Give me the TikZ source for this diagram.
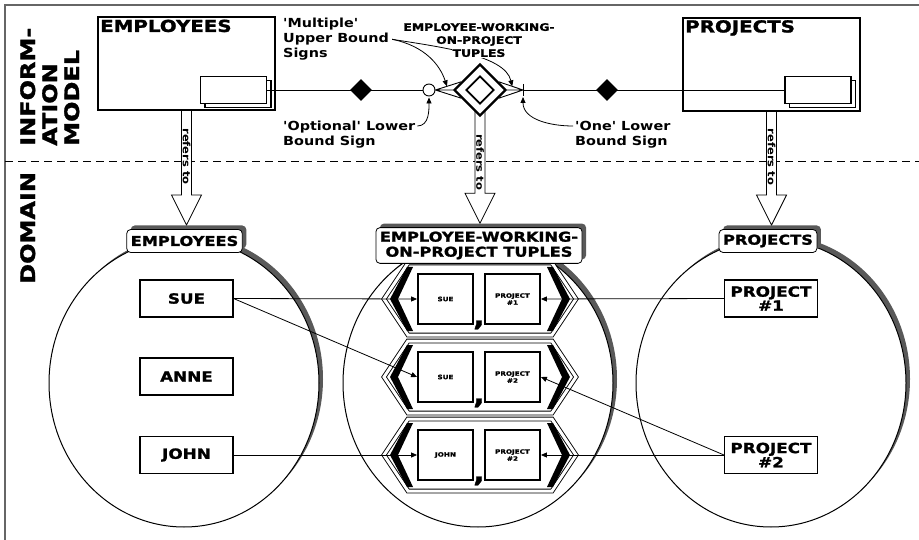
\documentclass[tikz,border=0pt]{standalone}
\usepackage{fontspec}
\setmainfont{DejaVu Sans}
\newfontfamily\widefont{DejaVu Sans}[FakeStretch=1.2, Ligatures=TeXOff, BoldFeatures={FakeBold=1.5}]
\newfontfamily\notefont{DejaVu Sans}[FakeStretch=1.15, Ligatures=TeXOff]
\usetikzlibrary{calc, positioning}
\usetikzlibrary{arrows.meta}
\usetikzlibrary{shapes.geometric}
\usetikzlibrary{shadows}
\usetikzlibrary{backgrounds}

\colorlet{shadowgray}{black!65}

\begin{document}
\begin{tikzpicture}[x=1pt, y=-1pt,
  thinline/.style={line width=0.9pt},
  entbox/.style={draw, line width=2pt, fill=white, minimum width=177pt, minimum height=93pt, inner sep=0pt},
  enttitle/.style={anchor=north west, inner sep=3pt, font=\widefont\bfseries\fontsize{16.5}{16.5}\selectfont},
  setbox/.style={draw, line width=1.6pt, fill=white, minimum width=66pt, minimum height=27pt, inner sep=0pt},
  bandlabel/.style={rotate=90, anchor=north west, align=left, inner sep=0pt, font=\widefont\bfseries\fontsize{20}{22}\selectfont},
  note/.style={anchor=north west, align=left, inner sep=0pt, font=\notefont\bfseries\fontsize{12.5}{15}\selectfont},
  notearrow/.style={line width=0.8pt, -{Triangle[length=6pt, width=5pt]}},
  reltitle/.style={inner sep=1pt, align=center, font=\widefont\bfseries\fontsize{10.3}{13}\selectfont},
  refarrow/.style={draw, fill=white, line width=0.8pt},
  reftext/.style={rotate=-90, inner sep=0pt, font=\notefont\bfseries\fontsize{10}{10}\selectfont},
  domset/.style={ellipse, draw, fill=white, line width=1pt, minimum width=270pt, minimum height=288pt,
    drop shadow={shadow xshift=4pt, shadow yshift=4pt, fill=shadowgray, opacity=1}},
  domlabel/.style={draw, fill=white, rounded corners=4pt, line width=0.8pt, inner xsep=4pt, inner ysep=4pt,
    minimum height=23pt, align=center, font=\widefont\bfseries\fontsize{13.5}{15}\selectfont,
    drop shadow={shadow xshift=4pt, shadow yshift=4pt, fill=shadowgray, opacity=1}},
  member/.style={draw, fill=white, line width=1.1pt, minimum width=93pt, minimum height=37pt, inner sep=0pt,
    align=center, font=\widefont\bfseries\fontsize{14}{12}\selectfont},
  tuphex/.style={draw, fill=white, double, double distance=3pt, line width=0.9pt},
  tupbox/.style={draw, fill=white, line width=1.8pt, minimum width=55pt, minimum height=50pt, inner sep=0pt,
    align=center, font=\widefont\bfseries\fontsize{6}{7}\selectfont},
  tupcomma/.style={inner sep=0pt, font=\widefont\bfseries\fontsize{26}{26}\selectfont},
  link/.style={line width=0.8pt, -{Triangle[length=6pt, width=5pt]}}]
\useasboundingbox (0,0) rectangle (919,540);

% layer labels
\node[bandlabel] at (20,146) {INFORM-\\ATION\\MODEL};
\node[bandlabel] at (20,284) {DOMAIN};

% ---- information model ----
\node[entbox] (emp) at (186.5,64) {};
\node[enttitle] at (emp.north west) {EMPLOYEES};
\node[setbox] (empsetb) at (238,94) {};
\node[setbox] (empset) at (233.5,90) {};

\node[entbox] (prj) at (771.5,64.5) {};
\node[enttitle] at (prj.north west) {PROJECTS};
\node[setbox] (prjsetb) at (822.5,94) {};
\node[setbox] (prjset) at (818,90) {};

\node[diamond, draw, fill=white, line width=2.2pt, minimum width=52pt, minimum height=52pt, inner sep=0pt] (rel) at (480,90) {};
\node[diamond, draw, line width=1.8pt, minimum width=28pt, minimum height=28pt, inner sep=0pt] at (rel) {};

\node[circle, draw, fill=white, thinline, minimum size=12pt, inner sep=0pt] (optc) at (429,90) {};
\coordinate (onebar) at (523,90);
\node[diamond, fill, minimum width=22pt, minimum height=22pt, inner sep=0pt] at (361,90) {};
\node[diamond, fill, minimum width=22pt, minimum height=22pt, inner sep=0pt] at (607,90) {};

\draw[thinline] (empset.east) -- (optc.west);
\draw[thinline] (onebar) -- (prjset.west);

% crow's feet on both sides of the relationship
\coordinate (cfl1) at ($(rel.west)!0.3!(rel.north)$);
\coordinate (cfl2) at ($(rel.west)!0.3!(rel.south)$);
\coordinate (cfr1) at ($(rel.east)!0.3!(rel.north)$);
\coordinate (cfr2) at ($(rel.east)!0.3!(rel.south)$);
\draw[thinline] (cfl1) -- (optc.east) -- (cfl2) (optc.east) -- (rel.west);
\draw[thinline] (cfr1) -- (onebar) -- (cfr2) (onebar) -- (rel.east);
\draw[thinline] ([yshift=6pt]onebar) -- ([yshift=-6pt]onebar);

% notes
\node[note] (upb) at (283,18) {'Multiple'\\Upper Bound\\Signs};
\node[note] (optl) at (283,121) {'Optional' Lower\\Bound Sign};
\node[note] (onel) at (575,121) {'One' Lower\\Bound Sign};
\node[reltitle, anchor=north] (reltop) at (479,22) {EMPLOYEE-WORKING-\\ON-PROJECT};

\coordinate (upfrom) at ([xshift=3pt]upb.east);
\coordinate (optfrom) at ($(optl.north east)+(2,5)$);
\coordinate (onefrom) at ($(onel.north west)+(-2,5)$);
\draw[notearrow] (upfrom) .. controls (425,46) and (440,65) .. ($(optc.east)!0.45!(cfl1)$);
\draw[notearrow] (upfrom) .. controls (440,47) and (505,55) .. ($(onebar)!0.45!(cfr1)$);
\node[reltitle, fill=white, anchor=north] (reltup) at (479,48) {TUPLES};
\draw[notearrow] (optfrom) to[out=0, in=-90] ([yshift=-1pt]optc.south);
\draw[notearrow] (onefrom) to[out=180, in=-90] ($(onebar)+(0,7)$);

% ---- domain ----
\node[domset] (empdom) at (184,383) {};
\node[domset] (tupdom) at (478,383) {};
\node[domset] (prjdom) at (771,383) {};

\node[domlabel] (emplab) at (184.5,241) {EMPLOYEES};
\node[domlabel] (prjlab) at (768,241) {PROJECTS};

\node[member] (sue) at (186.5,298.5) {SUE};
\node[member] (anne) at (186.5,376.5) {ANNE};
\node[member] (john) at (186.5,455) {JOHN};
\node[member] (prj1) at (771,298.5) {PROJECT\\\#1};
\node[member] (prj2) at (771,455) {PROJECT\\\#2};

\foreach \i/\yc/\who/\what in {1/299/SUE/{PROJECT\\\#1}, 2/377/SUE/{PROJECT\\\#2}, 3/455/JOHN/{PROJECT\\\#2}} {
  \draw[tuphex] (384,\yc) -- (408,\yc-36) -- (552,\yc-36) -- (576,\yc) -- (552,\yc+36) -- (408,\yc+36) -- cycle;
  \fill (407,\yc-32) -- (390,\yc) -- (407,\yc+32) -- (413,\yc+32) -- (398,\yc) -- (413,\yc-32) -- cycle;
  \fill (553,\yc-32) -- (570,\yc) -- (553,\yc+32) -- (547,\yc+32) -- (562,\yc) -- (547,\yc-32) -- cycle;
  \node[tupbox] (tup\i-emp) at (445.5,\yc) {\who};
  \node[tupbox] (tup\i-prj) at (512.5,\yc) {\what};
  \node[tupcomma] at (479,\yc+26) {,};
}
\node[domlabel] (tuplab) at (479,245.5) {EMPLOYEE-WORKING-\\ON-PROJECT TUPLES};

\draw[link] (sue.east) -- (tup1-emp.west);
\draw[link] (sue.east) -- (tup2-emp.west);
\draw[link] (john.east) -- (tup3-emp.west);
\draw[link] (prj1.west) -- (tup1-prj.east);
\draw[link] (prj2.west) -- (tup2-prj.east);
\draw[link] (prj2.west) -- (tup3-prj.east);

\begin{scope}[on background layer]
  \draw[line width=1.2pt, black!60] (919,5) -- (5,5) -- (5,540);
  \draw[line width=0.8pt, dash pattern=on 8pt off 5pt] (5,161) -- (919,161);
  % the three "refers to" arrows
  \foreach \src/\dst in {emp/emplab, rel/tuplab, prj/prjlab}
    \draw[refarrow] let \p1=(\src.south), \p2=(\dst.north) in
      (\x1-5pt,\y1+8pt) -- (\x1-5pt,\y2+34pt) -- (\x1-15pt,\y2+34pt) -- (\x1,\y2+4pt)
      -- (\x1+15pt,\y2+34pt) -- (\x1+5pt,\y2+34pt) -- (\x1+5pt,\y1+8pt)
      (\x1,\y1-45pt) node[reftext] {refers to};
\end{scope}
\end{tikzpicture}
\end{document}
